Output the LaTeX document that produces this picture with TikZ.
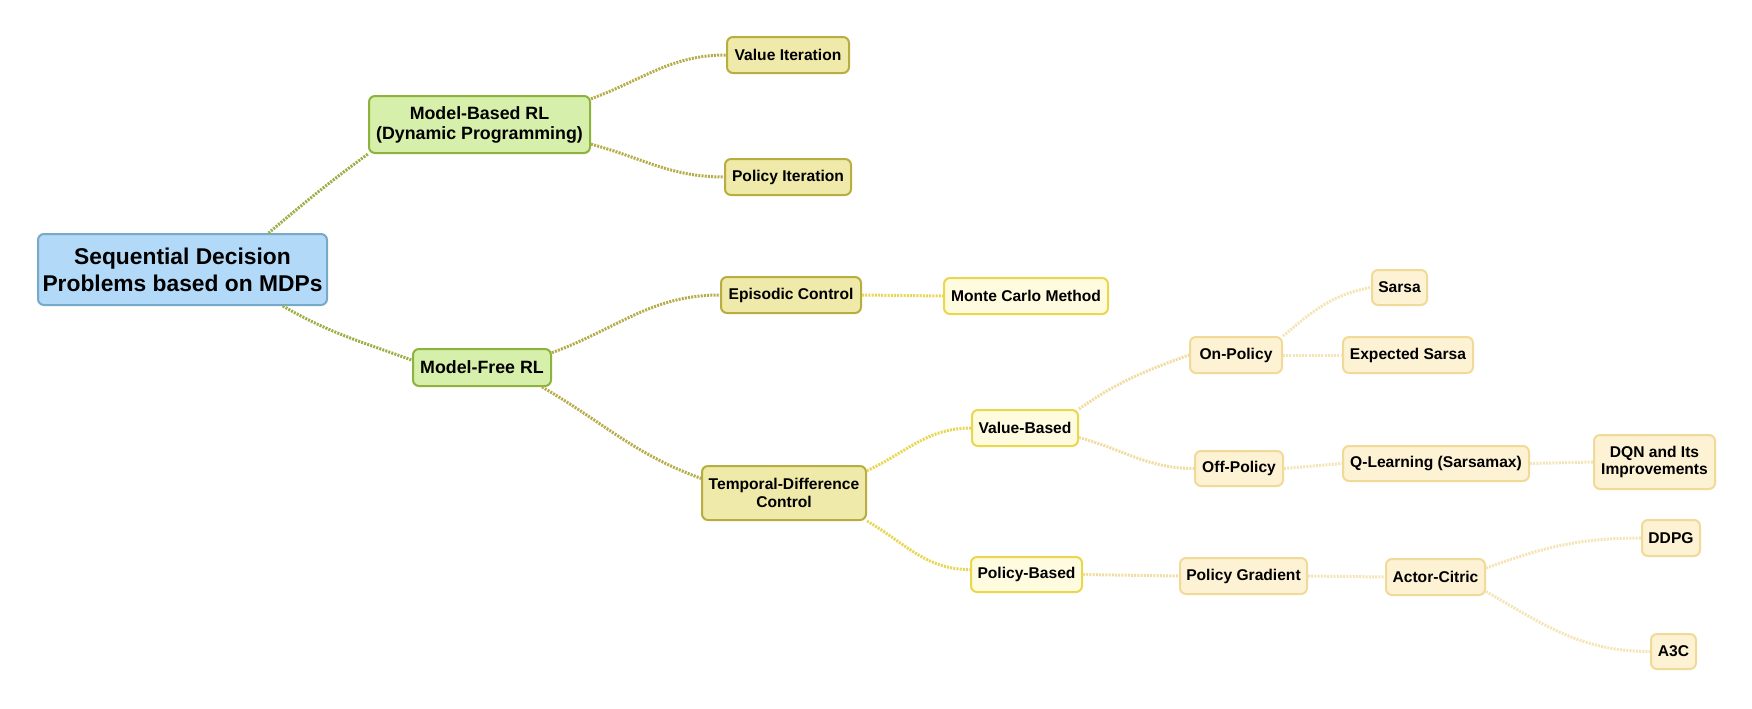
\documentclass[tikz,border=0pt]{standalone}
\usepackage{fontspec}
\setmainfont{Liberation Sans}
\definecolor{rootfill}{HTML}{B2DAF8}
\definecolor{rootline}{HTML}{78A9C9}
\definecolor{greenfill}{HTML}{D6EFAA}
\definecolor{greenline}{HTML}{8DB33D}
\definecolor{khakifill}{HTML}{EFE9AA}
\definecolor{khakiline}{HTML}{B8AE40}
\definecolor{yelfill}{HTML}{FFFBDF}
\definecolor{yelline}{HTML}{EAD74B}
\definecolor{beigefill}{HTML}{FDF2D3}
\definecolor{beigeline}{HTML}{F1DA98}
\definecolor{edgegreen}{HTML}{9DAE45}
\definecolor{edgekhaki}{HTML}{B6AC4A}
\definecolor{edgeyel}{HTML}{E8D654}
\definecolor{edgebeige}{HTML}{F0DDA2}
\definecolor{edgelight}{HTML}{F4E4B6}
\tikzset{
  box/.style={rounded corners=3pt, line width=1pt, inner sep=0pt, align=center, font=\bfseries\fontsize{7.8}{8.9}\selectfont},
  sz/.style 2 args={minimum width=#1*0.5pt, minimum height=#2*0.5pt},
  rootbox/.style={box, fill=rootfill, draw=rootline, font=\bfseries\fontsize{11.4}{13.4}\selectfont},
  greenbox/.style={box, fill=greenfill, draw=greenline, font=\bfseries\fontsize{8.9}{10}\selectfont},
  khakibox/.style={box, fill=khakifill, draw=khakiline},
  yelbox/.style={box, fill=yelfill, draw=yelline},
  beigebox/.style={box, fill=beigefill, draw=beigeline},
  link/.style={line width=1.5pt, dash pattern=on 1pt off 0.6pt}
}
\begin{document}
\begin{tikzpicture}[x=0.5pt,y=-0.5pt]
    \useasboundingbox (0,0) rectangle (1752,708);

    % level 0 and 1
    \node[rootbox,sz={289}{71}] (root) at (182.5,269.5) {Sequential Decision\\Problems based on MDPs};
    \node[greenbox,sz={221}{57}] (mb) at (479.5,124.5) {Model-Based RL\\(Dynamic Programming)};
    \node[greenbox,sz={138}{37}] (mf) at (482,367.5) {Model-Free RL};

    % level 2
    \node[khakibox,sz={122}{36}] (vi) at (788,55) {Value Iteration};
    \node[khakibox,sz={126}{36}] (pi) at (788,177) {Policy Iteration};
    \node[khakibox,sz={140}{36}] (ep) at (791,295) {Episodic Control};
    \node[khakibox,sz={164}{54}] (td) at (784,493) {Temporal-Difference\\Control};

    % level 3
    \node[yelbox,sz={164}{36}] (mc) at (1026,296) {Monte Carlo Method};
    \node[yelbox,sz={106}{36}] (vb) at (1025,428) {Value-Based};
    \node[yelbox,sz={111}{35}] (pb) at (1026.5,574.5) {Policy-Based};

    % level 4 and beyond
    \node[beigebox,sz={92}{36}] (on) at (1236,355) {On-Policy};
    \node[beigebox,sz={88}{35}] (off) at (1239,468.5) {Off-Policy};
    \node[beigebox,sz={127}{36}] (pg) at (1243.5,576) {Policy Gradient};
    \node[beigebox,sz={55}{35}] (sarsa) at (1399.5,287.5) {Sarsa};
    \node[beigebox,sz={130}{36}] (es) at (1408,355) {Expected Sarsa};
    \node[beigebox,sz={186}{35}] (ql) at (1436,463.5) {Q-Learning (Sarsamax)};
    \node[beigebox,sz={99}{36}] (ac) at (1435.5,577) {Actor-Citric};
    \node[beigebox,sz={121}{54}] (dqn) at (1654.5,462) {DQN and Its\\Improvements};
    \node[beigebox,sz={58}{36}] (ddpg) at (1671,538) {DDPG};
    \node[beigebox,sz={45}{35}] (a3c) at (1673.5,651.5) {A3C};

    % connectors
    \draw[link,edgegreen] (root.23) to[out=40,in=216] (mb.south west);
    \draw[link,edgegreen] (root.-20) to[out=-30,in=160] (mf.174);
    \draw[link,edgekhaki] (mb.13) to[out=20,in=180] (vi.west);
    \draw[link,edgekhaki] (mb.-10) to[out=-15,in=180] (pi.west);
    \draw[link,edgekhaki] (mf.12) to[out=20,in=180] (ep.west);
    \draw[link,edgekhaki] (mf.-18) to[out=-30,in=160] (td.170);
    \draw[link,edgeyel] (ep.east) -- (mc.west);
    \draw[link,edgeyel] (td.15) to[out=25,in=180] (vb.west);
    \draw[link,edgeyel] (td.south east) to[out=-30,in=180] (pb.175);
    \draw[link,edgebeige] (vb.north east) to[out=35,in=200] (on.west);
    \draw[link,edgebeige] (vb.-10) to[out=-15,in=180] (off.west);
    \draw[link,edgebeige] (pb.east) -- (pg.west);
    \draw[link,edgelight] (on.north east) to[out=40,in=190] (sarsa.west);
    \draw[link,edgelight] (on.east) -- (es.west);
    \draw[link,edgelight] (off.east) -- (ql.west);
    \draw[link,edgelight] (ql.east) -- (dqn.west);
    \draw[link,edgelight] (pg.east) -- (ac.west);
    \draw[link,edgelight] (ac.10) to[out=20,in=180] (ddpg.west);
    \draw[link,edgelight] (ac.-16) to[out=-30,in=180] (a3c.west);
\end{tikzpicture}
\end{document}
